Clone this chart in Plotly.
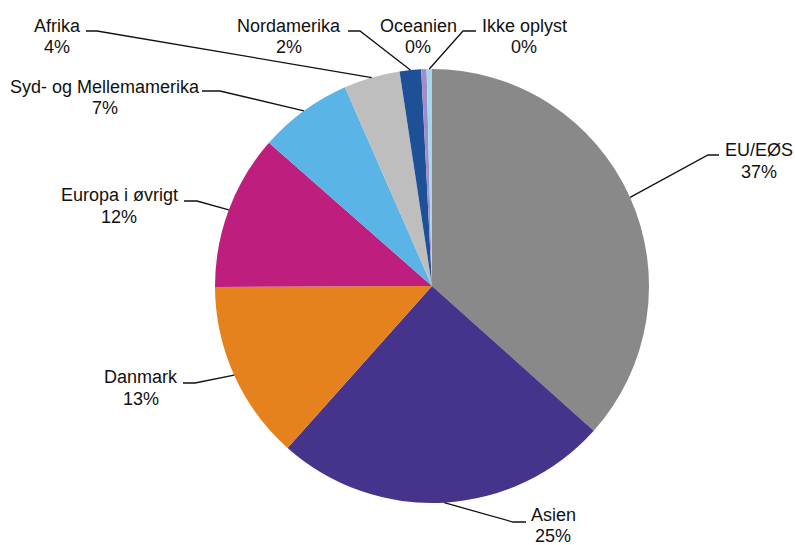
import numpy as np
import plotly.graph_objects as go

W, H = 795, 545

regions = ["EU/EØS", "Asien", "Danmark", "Europa i øvrigt", "Syd- og Mellemamerika",
           "Afrika", "Nordamerika", "Oceanien", "Ikke oplyst"]
shares = [36.8, 25.1, 13.4, 11.6, 7.0, 4.2, 1.6, 0.4, 0.4]
colors = ["#898989", "#46338C", "#E6821E", "#BE1E7D", "#5AB4E6",
          "#BEBEBE", "#1D5096", "#A08EC6", "#A5D8EF"]

# label layout (pixels): text x centre, y of name line, y of percent line,
# leader line elbow (x, y) and end of horizontal stub
label_pos = {
    "EU/EØS": (759, 150, 172, (708, 155, 719)),
    "Asien": (553, 515, 536, (513, 522, 526)),
    "Danmark": (141, 377, 399, (195, 383, 183)),
    "Europa i øvrigt": (119, 195, 217, (197, 201, 184)),
    "Syd- og Mellemamerika": (105, 87, 108, (220, 91, 202)),
    "Afrika": (57, 26, 47, (97, 31, 86)),
    "Nordamerika": (289, 26, 47, (360, 31, 348)),
    "Oceanien": (418, 26, 47, None),
    "Ikke oplyst": (524, 26, 47, (463, 31, 476)),
}

cx, cy, r = 432, 286, 217
font = dict(family="Liberation Sans, Arial", size=18, color="#111111")

fig = go.Figure()
fig.add_trace(go.Pie(
    labels=regions, values=shares, sort=False, direction="clockwise", rotation=0,
    marker=dict(colors=colors, line=dict(width=0)),
    textinfo="none", hoverinfo="label+percent", showlegend=False,
    domain=dict(x=[(cx - r) / W, (cx + r) / W], y=[1 - (cy + r) / H, 1 - (cy - r) / H]),
))

pct = np.array(shares) / sum(shares)
mids = np.cumsum(pct) - pct / 2
shapes, annotations = [], []
for name, p, m in zip(regions, pct, mids):
    tx, ty1, ty2, lead = label_pos[name]
    for txt, ty in ((name, ty1), (f"{round(p * 100):.0f}%", ty2)):
        annotations.append(dict(
            x=tx / W, y=1 - ty / H, xref="paper", yref="paper",
            text=txt, showarrow=False, xanchor="center", yanchor="middle",
            font=font,
        ))
    if lead is None:
        continue
    ang = 2 * np.pi * m
    ex, ey = cx + r * np.sin(ang), cy - r * np.cos(ang)
    bx, by, hx = lead
    path = (f"M {ex / W:.5f},{1 - ey / H:.5f} L {bx / W:.5f},{1 - by / H:.5f} "
            f"L {hx / W:.5f},{1 - by / H:.5f}")
    shapes.append(dict(type="path", path=path, xref="paper", yref="paper",
                       line=dict(color="#111111", width=1.3)))

fig.update_layout(
    width=W, height=H,
    margin=dict(l=0, r=0, t=0, b=0),
    paper_bgcolor="white", plot_bgcolor="white",
    shapes=shapes, annotations=annotations,
)

fig.write_html("out.html", config={"displayModeBar": False},
               post_script="document.body.style.margin='0';")
